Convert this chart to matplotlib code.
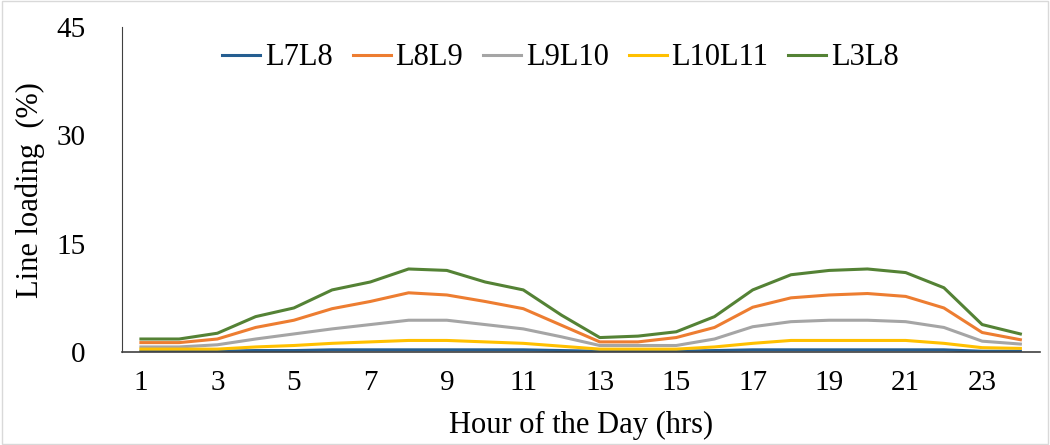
import matplotlib
matplotlib.use("Agg")
import matplotlib.pyplot as plt
from matplotlib.patches import Rectangle

hours = list(range(1, 25))
xtick_labels = [str(h) for h in range(1, 25, 2)]
yticks = [0, 15, 30, 45]

L7L8 = [0.1, 0.1, 0.1, 0.2, 0.2, 0.3, 0.3, 0.3, 0.3, 0.3, 0.3, 0.2,
        0.1, 0.1, 0.1, 0.2, 0.3, 0.3, 0.3, 0.3, 0.3, 0.3, 0.1, 0.1]
L8L9 = [1.3, 1.3, 1.8, 3.4, 4.4, 6.0, 7.0, 8.2, 7.9, 7.0, 6.0, 3.7,
        1.4, 1.4, 2.0, 3.4, 6.2, 7.5, 7.9, 8.1, 7.7, 6.1, 2.7, 1.7]
L9L10 = [0.7, 0.7, 1.0, 1.8, 2.5, 3.2, 3.8, 4.4, 4.4, 3.8, 3.2, 2.1,
         0.9, 0.9, 0.9, 1.8, 3.5, 4.2, 4.4, 4.4, 4.2, 3.4, 1.5, 1.1]
L10L11 = [0.4, 0.4, 0.4, 0.7, 0.9, 1.2, 1.4, 1.6, 1.6, 1.4, 1.2, 0.8,
          0.4, 0.4, 0.4, 0.7, 1.2, 1.6, 1.6, 1.6, 1.6, 1.2, 0.6, 0.5]
L3L8 = [1.8, 1.8, 2.6, 4.9, 6.1, 8.6, 9.7, 11.5, 11.3, 9.7, 8.6, 5.1,
        2.0, 2.2, 2.8, 4.9, 8.6, 10.7, 11.3, 11.5, 11.0, 8.9, 3.8, 2.5]

series = [("L7L8", L7L8, "#255E91"), ("L8L9", L8L9, "#ED7D31"),
          ("L9L10", L9L10, "#A5A5A5"), ("L10L11", L10L11, "#FFC000"),
          ("L3L8", L3L8, "#548235")]

plt.rcParams['font.family'] = ['Liberation Serif', 'DejaVu Serif']

fig = plt.figure(figsize=(10.5, 4.45), dpi=100)
fig.patches.append(Rectangle((0.002, 0.002), 0.996, 0.996, transform=fig.transFigure,
                             fill=False, edgecolor="#D9D9D9", linewidth=1))
ax = fig.add_axes([0.116, 0.209, 0.874, 0.730])

for name, vals, col in series:
    ax.plot(hours, vals, color=col, linewidth=2.2, label=name)

ax.set_xlim(0.5, 24.5)
ax.set_ylim(0, 45)
ax.set_yticks(yticks)
ax.set_xticks(range(1, 25, 2))
ax.set_xticklabels(xtick_labels)
ax.tick_params(axis='both', length=0, labelsize=21)
ax.tick_params(axis='x', pad=13)
ax.tick_params(axis='y', pad=26)
for s in ['top', 'right']:
    ax.spines[s].set_visible(False)
ax.spines['left'].set_color('#404040')
ax.spines['bottom'].set_color('#404040')
ax.spines['bottom'].set_linewidth(1.2)

ax.set_xlabel("Hour of the Day (hrs)", fontsize=22, labelpad=11)
ax.set_ylabel("Line loading  (%)", fontsize=22, labelpad=8)

ax.legend(loc='upper center', bbox_to_anchor=(0.478, 1.035), ncol=5, frameon=False,
          fontsize=22, handlelength=1.25, handletextpad=0.15, columnspacing=0.65)

fig.savefig("out.png", dpi=100)
